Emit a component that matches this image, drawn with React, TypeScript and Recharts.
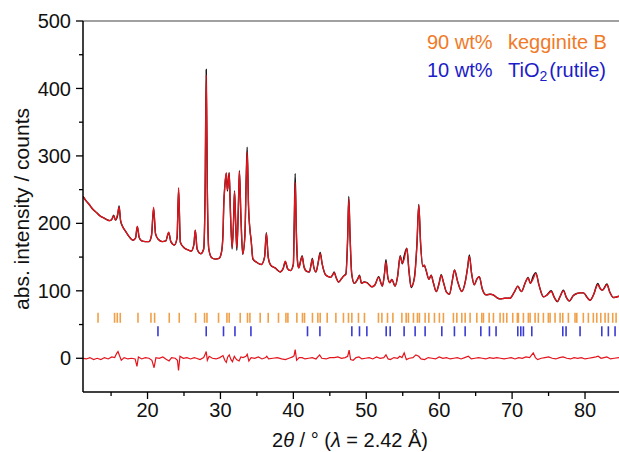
import React from 'react';
import { ComposedChart, Line, Scatter, XAxis, YAxis, ReferenceLine } from 'recharts';

// 2θ positions of the measured / calculated pattern
const twoTheta = [
  11.15, 11.6, 12.0, 12.5, 13.0, 13.5, 14.0, 14.5, 14.8, 15.1, 15.35, 15.6, 15.9, 16.1, 16.3, 16.6, 17.0, 17.5, 18.0, 18.35,
  18.6, 18.85, 19.2, 19.7, 20.2, 20.55, 20.83, 21.1, 21.5, 22.0, 22.5, 22.9, 23.2, 23.7, 24.05, 24.26, 24.5, 25.0, 25.5, 26.0,
  26.35, 26.55, 26.8, 27.3, 27.7, 27.9, 28.05, 28.2, 28.4, 28.8, 29.3, 29.8, 30.15, 30.35, 30.45, 30.6, 30.8, 30.95, 31.1, 31.2,
  31.35, 31.6, 31.8, 31.93, 32.1, 32.25, 32.45, 32.6, 32.8, 33.05, 33.35, 33.55, 33.67, 33.85, 34.05, 34.2, 34.45, 35.0, 35.6, 36.05,
  36.3, 36.55, 36.9, 37.5, 38.2, 38.6, 38.9, 39.2, 39.6, 40.0, 40.12, 40.25, 40.4, 40.6, 40.75, 41.0, 41.2, 41.45, 41.8, 42.2,
  42.45, 42.6, 42.8, 43.1, 43.4, 43.68, 43.95, 44.4, 44.8, 45.1, 45.4, 45.6, 45.85, 46.2, 46.6, 46.9, 47.2, 47.45, 47.6, 47.78,
  48.0, 48.35, 48.8, 49.07, 49.35, 49.7, 50.1, 50.4, 50.8, 51.2, 51.7, 52.0, 52.2, 52.5, 52.7, 52.95, 53.25, 53.5, 53.96, 54.3,
  54.65, 54.95, 55.2, 55.56, 55.85, 56.15, 56.6, 56.95, 57.2, 57.45, 57.75, 57.95, 58.2, 58.6, 58.9, 59.2, 59.6, 60.0, 60.27, 60.6,
  61.0, 61.4, 61.8, 62.1, 62.5, 63.1, 63.6, 63.9, 64.14, 64.45, 64.8, 65.2, 65.5, 65.9, 66.43, 67.0, 67.4, 67.9, 68.35, 69.0,
  69.7, 70.3, 70.8, 71.1, 71.3, 71.8, 72.2, 72.5, 72.9, 73.25, 73.7, 74.3, 74.8, 75.35, 75.8, 76.2, 76.6, 77.03, 77.45, 77.85,
  78.4, 78.87, 79.3, 79.8, 80.3, 80.7, 81.2, 81.75, 82.1, 82.4, 83.0, 83.4, 83.9, 84.66,
];

const observed = [
  240, 233, 228, 221, 216, 211, 208, 205, 204, 206, 212, 205, 212, 226, 204, 195, 188, 180, 175, 178,
  195, 179, 174, 173, 173, 182, 222, 184, 176, 173, 174, 186, 173, 168, 178, 250, 172, 164, 161, 159,
  168, 190, 162, 155, 162, 250, 428, 250, 162, 149, 147, 148, 158, 185, 227, 255, 274, 248, 265, 275,
  225, 162, 205, 248, 198, 160, 220, 278, 212, 154, 182, 275, 313, 225, 190, 176, 147, 142, 139, 150,
  186, 150, 138, 134, 128, 133, 143, 133, 130, 140, 200, 274, 190, 140, 134, 145, 152, 136, 129, 128,
  140, 148, 135, 128, 142, 157, 140, 124, 121, 120, 124, 128, 120, 113, 118, 122, 125, 180, 240, 180,
  125, 111, 117, 123, 111, 113, 112, 109, 106, 109, 121, 112, 107, 126, 146, 120, 112, 117, 107, 122,
  152, 140, 152, 163, 130, 105, 120, 170, 228, 170, 136, 138, 130, 117, 123, 112, 99, 112, 124, 112,
  98, 95, 115, 131, 115, 99, 115, 135, 153, 125, 109, 118, 121, 103, 94, 95, 94, 90, 88, 89,
  89, 98, 107, 101, 99, 112, 120, 111, 122, 127, 108, 91, 94, 100, 90, 84, 92, 101, 90, 85,
  93, 96, 97, 97, 90, 86, 95, 111, 103, 101, 110, 98, 90, 92,
];

const calculated = [
  240, 233, 228, 221, 216, 211, 208, 205, 204, 206, 211, 205, 214, 224, 205, 195, 188, 180, 175, 178,
  196, 180, 174, 173, 173, 183, 224, 185, 176, 173, 174, 187, 173, 168, 180, 253, 172, 164, 161, 159,
  168, 190, 162, 155, 162, 246, 420, 252, 162, 149, 147, 148, 157, 183, 225, 255, 275, 250, 262, 274,
  222, 164, 202, 247, 197, 164, 222, 277, 214, 155, 180, 270, 306, 227, 190, 176, 148, 142, 139, 150,
  185, 150, 138, 134, 128, 133, 144, 133, 130, 138, 196, 261, 192, 141, 134, 144, 151, 136, 129, 128,
  140, 147, 135, 128, 141, 155, 140, 124, 121, 120, 124, 127, 120, 113, 118, 122, 124, 178, 236, 180,
  126, 111, 117, 122, 111, 113, 112, 109, 106, 109, 120, 112, 107, 125, 143, 121, 112, 117, 107, 121,
  151, 141, 147, 163, 131, 106, 118, 169, 227, 171, 136, 138, 131, 117, 123, 112, 99, 111, 123, 112,
  98, 95, 115, 131, 115, 99, 114, 134, 151, 126, 109, 118, 121, 103, 94, 95, 94, 90, 88, 89,
  89, 98, 107, 101, 99, 112, 119, 111, 118, 126, 108, 91, 94, 99, 90, 84, 92, 100, 90, 85,
  93, 96, 97, 97, 90, 86, 95, 109, 103, 101, 109, 98, 90, 92,
];

// difference curve (obs - calc)
const diffTheta = [
  11.15, 11.6, 12.1, 12.6, 13.1, 13.6, 14.1, 14.6, 15.1, 15.5, 15.75, 15.95, 16.15, 16.4, 16.8, 17.3, 17.8, 18.3, 18.55, 18.75,
  19.2, 19.7, 20.2, 20.6, 20.9, 21.15, 21.6, 22.1, 22.5, 22.95, 23.3, 23.8, 24.1, 24.25, 24.45, 24.9, 25.4, 25.9, 26.4, 26.7,
  27.2, 27.7, 27.95, 28.05, 28.2, 28.45, 28.9, 29.4, 29.9, 30.35, 30.6, 30.8, 31.0, 31.2, 31.45, 31.65, 31.9, 32.2, 32.55, 32.8,
  33.1, 33.5, 33.67, 33.9, 34.2, 34.7, 35.2, 35.7, 36.2, 36.35, 36.6, 37.2, 37.8, 38.4, 38.9, 39.4, 39.9, 40.1, 40.25, 40.45,
  40.8, 41.2, 41.6, 42.1, 42.6, 43.1, 43.6, 43.9, 44.5, 45.0, 45.6, 46.1, 46.6, 47.1, 47.45, 47.65, 47.85, 48.2, 48.6, 49.0,
  49.4, 49.9, 50.4, 50.9, 51.4, 51.9, 52.4, 52.7, 53.0, 53.3, 53.8, 54.3, 54.6, 54.9, 55.2, 55.5, 55.9, 56.4, 56.8, 57.2,
  57.5, 58.0, 58.5, 59.0, 59.5, 60.0, 60.5, 61.0, 61.5, 62.0, 62.5, 63.0, 63.5, 64.0, 64.4, 64.9, 65.4, 65.9, 66.4, 66.9,
  67.4, 67.9, 68.4, 68.9, 69.4, 69.9, 70.4, 70.9, 71.4, 71.9, 72.4, 72.9, 73.2, 73.5, 74.0, 74.5, 75.0, 75.5, 76.0, 76.5,
  77.0, 77.5, 78.0, 78.5, 79.0, 79.5, 80.0, 80.5, 81.0, 81.5, 81.8, 82.2, 82.6, 83.0, 83.5, 84.0, 84.66,
];

const difference = [
  0, -1, 1, -2, 0, -2, 1, -1, 2, 1, 7, 10, 4, -3, 1, -1, 0, -1, -12, 2,
  -1, 1, 0, -3, -14, 1, 0, 2, -1, -4, 1, 0, -3, -18, 3, 0, 1, -1, 1, 0,
  -2, 1, 7, 10, -3, 3, 0, -1, 1, 4, -3, -6, 2, 5, -2, -5, 3, -2, -4, 2,
  1, 3, 6, -4, 1, 0, 2, -1, 1, 3, -1, 0, 1, -1, -2, 0, 2, 4, 13, -3,
  1, 1, -1, 0, 1, -1, 5, 0, -1, 1, 1, 2, 0, 1, 3, 12, -2, -3, 1, 2,
  -1, 0, 1, -1, 2, 0, 1, 5, -1, -2, 1, 0, 3, 1, 8, -2, 0, 1, 5, 3,
  -1, -2, 1, 0, -1, 2, 0, 1, -1, 0, 1, -1, 1, 3, -1, 0, 1, 0, -1, 1,
  0, 1, 0, -1, 0, 1, -1, 1, 0, 2, 1, 8, 1, -2, 0, 1, 2, 0, -1, 1,
  2, 0, -1, 1, 0, 1, -1, 0, 1, 2, 3, 0, 1, 2, -1, 0, 1,
];

// Bragg reflection positions
const keggiteTicks = [
  13.21, 15.48, 15.85, 16.26, 18.69, 20.47, 20.97, 22.98, 24.35, 26.59, 27.82, 28.15, 29.74, 30.89, 31.2, 32.71, 33.71, 34.04,
  35.45, 36.55, 37.96, 38.98, 39.25, 40.48, 41.25, 41.53, 42.62, 43.36, 43.68, 44.64, 45.83, 46.87, 47.56, 48.02, 48.93, 49.75,
  51.67, 52.14, 52.91, 53.65, 54.88, 55.47, 55.78, 56.47, 57.02, 57.29, 58.07, 58.58, 59.35, 60.03, 60.58, 61.95, 62.42, 63.1,
  63.56, 64.24, 65.16, 65.84, 66.07, 66.85, 67.44, 68.35, 68.81, 69.27, 70.09, 70.72, 70.86, 71.55, 72.23, 72.47, 73.15, 73.6,
  74.29, 74.97, 75.21, 75.89, 76.58, 76.95, 77.72, 78.63, 78.87, 79.77, 80.46, 81.14, 81.61, 82.16, 82.75, 83.2, 83.8, 84.26,
];
const rutileTicks = [
  21.43, 28.05, 30.42, 31.99, 34.18, 41.94, 43.64, 48.02, 49.07, 50.08, 52.73, 53.28, 55.19, 56.7, 58.07, 60.36, 62.09, 63.56,
  65.71, 66.89, 67.8, 70.78, 71.19, 71.55, 72.7, 76.95, 77.4, 79.32, 82.3, 83.2, 84.12,
];

const yTickValues = [0, 50, 100, 150, 200, 250, 300, 350, 400, 450, 500];
const xTickValues = [15, 20, 25, 30, 35, 40, 45, 50, 55, 60, 65, 70, 75, 80];

const patternRows = twoTheta.map((x, i) => ({ x, obs: observed[i], calc: calculated[i] }));
const diffRows = diffTheta.map((x, i) => ({ x, diff: difference[i] }));
const keggRows = keggiteTicks.map((x) => ({ x, y: 60 }));
const rutRows = rutileTicks.map((x) => ({ x, y: 40 }));

const FONT = 'Liberation Sans, Arial, Helvetica, sans-serif';
const TICK_SIZE = 7;
const Y_MARGIN = 5;
const X_MARGIN = 4;

const YTick = (props: any) => {
  const { x, y, payload } = props;
  const axisX = x + TICK_SIZE + Y_MARGIN;
  const major = payload.value % 100 === 0;
  return (
    <g>
      <line x1={axisX - (major ? 7 : 4)} x2={axisX} y1={y} y2={y} stroke="#000" strokeWidth={1.3} />
      {major && (
        <text x={axisX - 12} y={y} dy="0.355em" textAnchor="end" fontFamily={FONT} fontSize={20} fill="#111">
          {payload.value}
        </text>
      )}
    </g>
  );
};

const XTick = (props: any) => {
  const { x, y, payload } = props;
  const axisY = y - TICK_SIZE - X_MARGIN;
  const major = payload.value % 10 === 0;
  return (
    <g>
      <line x1={x} x2={x} y1={axisY} y2={axisY + (major ? 7 : 4)} stroke="#000" strokeWidth={1.3} />
      {major && (
        <text x={x} y={axisY + 11} dy="0.71em" textAnchor="middle" fontFamily={FONT} fontSize={20} fill="#111">
          {payload.value}
        </text>
      )}
    </g>
  );
};

const tickShape = (color: string) => (props: any) => {
  const { cx, cy } = props;
  return <line x1={cx} x2={cx} y1={cy - 5} y2={cy + 5} stroke={color} strokeWidth={1.6} />;
};

export default function App() {
  return (
    <div
      style={{
        position: 'fixed',
        left: 0,
        top: 0,
        width: 619,
        height: 452,
        overflow: 'hidden',
        background: '#fff',
      }}
    >
      <ComposedChart
        width={619}
        height={452}
        data={patternRows}
        margin={{ top: 21, right: 0, bottom: 0, left: 0 }}
      >
        <XAxis
          type="number"
          dataKey="x"
          domain={[11.15, 84.66]}
          allowDataOverflow
          ticks={xTickValues}
          interval={0}
          height={60}
          tickSize={TICK_SIZE}
          tickMargin={X_MARGIN}
          tickLine={false}
          tick={<XTick />}
          axisLine={{ stroke: '#000', strokeWidth: 1.5 }}
        />
        <YAxis
          type="number"
          domain={[-50, 500]}
          allowDataOverflow
          ticks={yTickValues}
          interval={0}
          width={83}
          tickSize={TICK_SIZE}
          tickMargin={Y_MARGIN}
          tickLine={false}
          tick={<YTick />}
          axisLine={{ stroke: '#000', strokeWidth: 1.5 }}
        />
        <ReferenceLine y={500} stroke="#808080" strokeWidth={1.5} />
        <Scatter data={keggRows} dataKey="y" shape={tickShape('#f0a048')} isAnimationActive={false} />
        <Scatter data={rutRows} dataKey="y" shape={tickShape('#3a3ad6')} isAnimationActive={false} />
        <Line
          data={diffRows}
          dataKey="diff"
          type="linear"
          stroke="#e4141c"
          strokeWidth={1.2}
          dot={false}
          isAnimationActive={false}
        />
        <Line dataKey="obs" type="monotone" stroke="#111" strokeWidth={1.4} dot={false} isAnimationActive={false} />
        <Line dataKey="calc" type="monotone" stroke="#e4141c" strokeWidth={1.3} dot={false} isAnimationActive={false} />
      </ComposedChart>
      <svg width={619} height={452} style={{ position: 'absolute', left: 0, top: 0, pointerEvents: 'none' }}>
        <g fontFamily={FONT} fontSize={20}>
          <text x={427} y={49} fill="#f07a28">90 wt%</text>
          <text x={508} y={49} fill="#f07a28">kegginite B</text>
          <text x={427} y={77} fill="#1c1cc8">10 wt%</text>
          <text x={508} y={77} fill="#1c1cc8">
            TiO<tspan fontSize={14} dy={4}>2</tspan>
            <tspan dy={-4} dx={2}>(rutile)</tspan>
          </text>
          <text transform="translate(28.5,209) rotate(-90)" textAnchor="middle" fill="#111" fontSize={21}>
            abs. intensity / counts
          </text>
          <text x={350} y={447} textAnchor="middle" fill="#111">
            2<tspan fontStyle="italic">θ</tspan> / ° (<tspan fontStyle="italic">λ</tspan> = 2.42 Å)
          </text>
        </g>
      </svg>
    </div>
  );
}
